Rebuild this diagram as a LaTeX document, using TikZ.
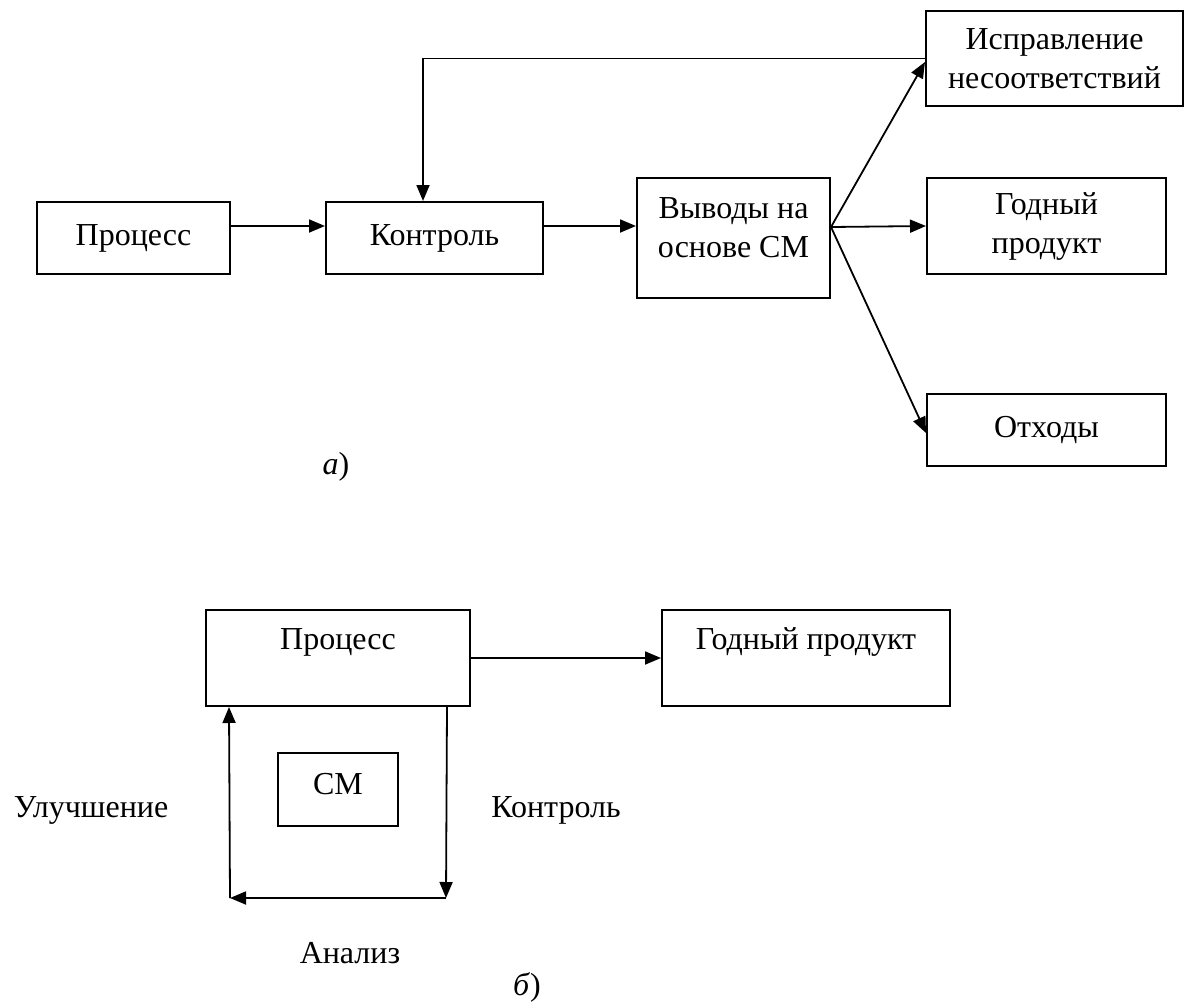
\documentclass[tikz,border=0pt]{standalone}
\usepackage{fontspec}
\setmainfont{Liberation Serif}
\usetikzlibrary{arrows.meta}
\begin{document}
\begin{tikzpicture}[x=1pt,y=-1pt,
  every node/.style={font=\fontsize{32}{39}\selectfont},
  blk/.style={draw, line width=2pt, inner sep=0pt, align=center},
  txt/.style={inner sep=0pt, align=center},
  arr/.style={line width=1.8pt, -{Triangle[length=16pt,width=13pt]}}]
\useasboundingbox (0,0) rectangle (1187,1004);

% --- scheme a) ---
\node[blk, minimum width=193pt, minimum height=72pt] (proc1) at (133.5,238) {Процесс};
\node[blk, minimum width=217pt, minimum height=72pt] (ctrl1) at (434.5,238) {Контроль};
\node[blk, minimum width=193pt, minimum height=120pt] (vyv) at (733.5,238) {};
\node[txt] (vyvt) at (733.5,228) {Выводы на\\основе СМ};
\node[blk, minimum width=257pt, minimum height=95pt] (ispr) at (1054.5,58.5) {Исправление\\несоответствий};
\node[blk, minimum width=239pt, minimum height=96pt] (good1) at (1046.5,226) {Годный\\продукт};
\node[blk, minimum width=239pt, minimum height=72pt] (waste) at (1046.5,430) {Отходы};
\node[txt] (capa) at (336,467) {\textit{а})};

\draw[arr] ([yshift=12pt]proc1.east) -- ([yshift=12pt]ctrl1.west);
\draw[arr] ([yshift=12pt]ctrl1.east) -- ([yshift=12pt]vyv.west);
\coordinate (br) at ([yshift=11pt]vyv.east);
\draw[arr] (br) -- ([yshift=-3.5pt]ispr.west);
\draw[arr] (br) -- (good1.west);
\draw[arr] (br) -- ([yshift=-3pt]waste.west);
\draw[arr] (ispr.west) -| ([xshift=-11.5pt]ctrl1.north);

% --- scheme b) ---
\node[blk, minimum width=264pt, minimum height=96pt] (proc2) at (338,658) {};
\node[txt] (proc2t) at (338,642) {Процесс};
\node[blk, minimum width=288pt, minimum height=96pt] (good2) at (806,658) {};
\node[txt] (good2t) at (806,642) {Годный продукт};
\node[blk, minimum width=120pt, minimum height=73pt] (cm) at (338,789.5) {};
\node[txt] (cmt) at (338,784) {СМ};
\node[txt] (impr) at (91,810) {Улучшение};
\node[txt] (ctrl2) at (556,810) {Контроль};
\node[txt] (anal) at (350,953) {Анализ};
\node[txt] (capb) at (527,987) {\textit{б})};

\coordinate (cr) at (446,898);
\coordinate (cl) at (230,898);
\draw[arr] (proc2.east) -- (good2.west);
\draw[arr] ([xshift=-24pt]proc2.south east) -- (cr);
\draw[arr] (cr) -- (cl);
\draw[arr] (cl) -- ([xshift=24pt]proc2.south west);
\end{tikzpicture}
\end{document}
